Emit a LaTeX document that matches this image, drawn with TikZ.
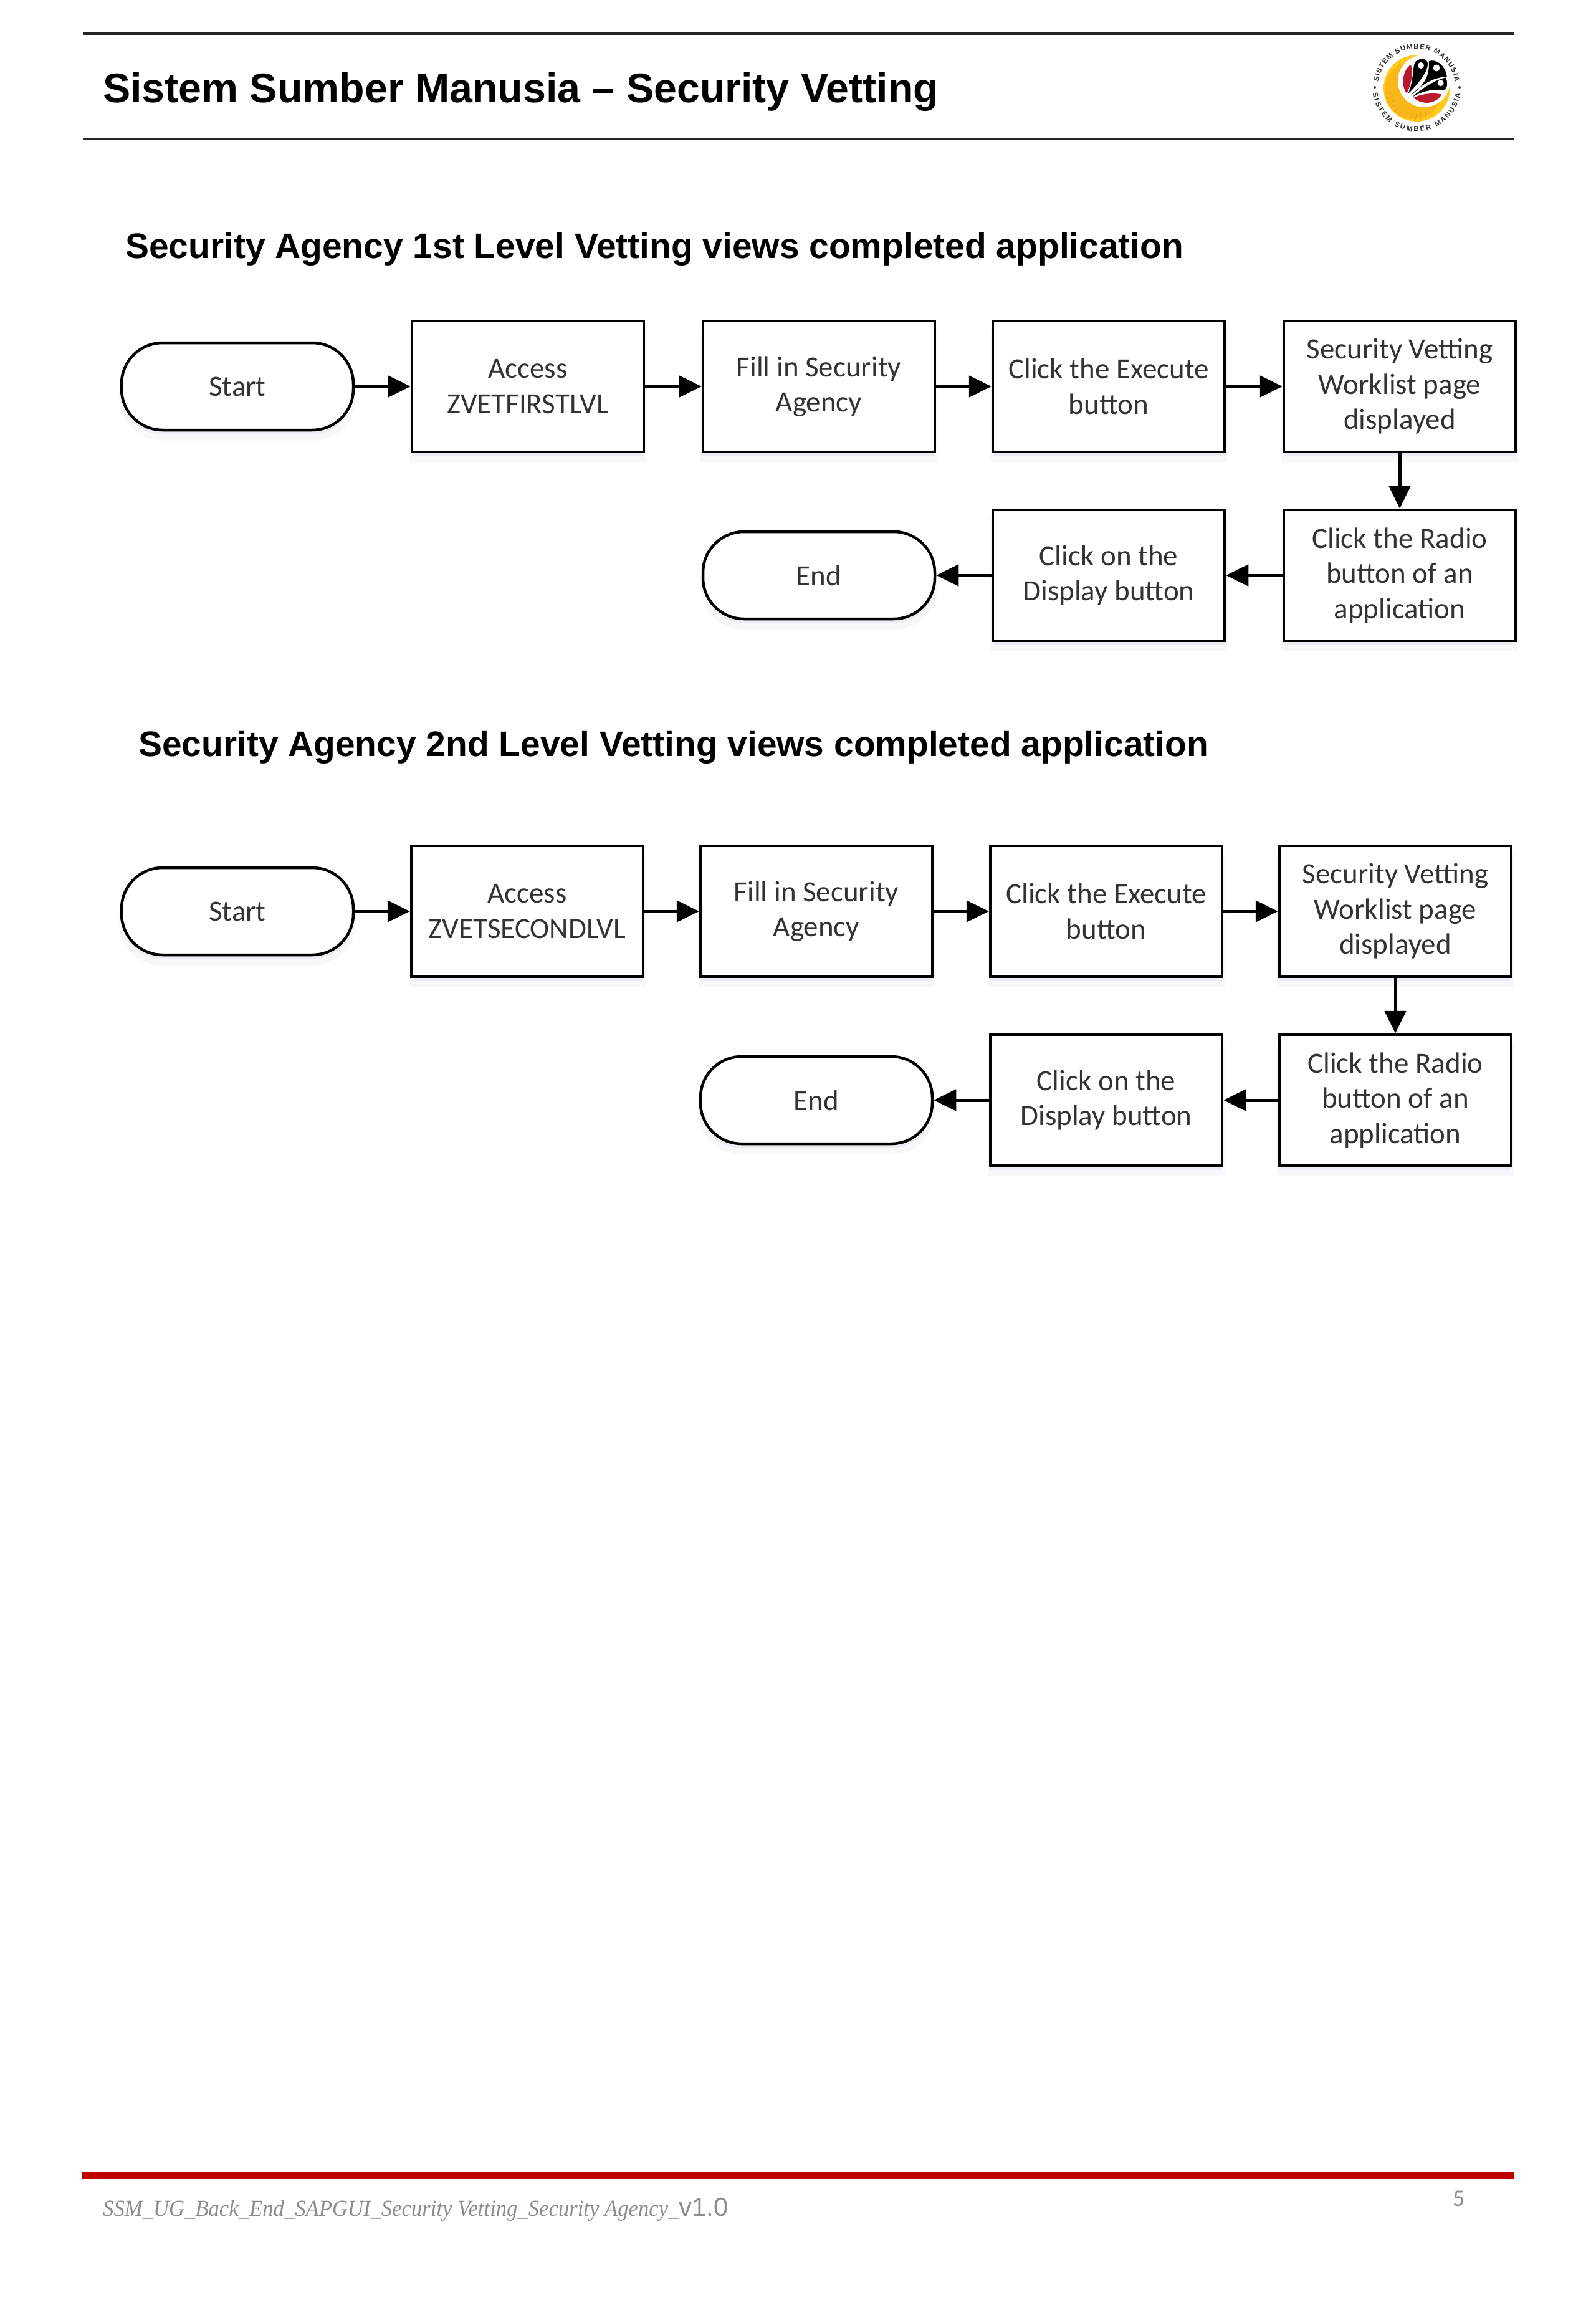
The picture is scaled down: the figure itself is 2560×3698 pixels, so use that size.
\documentclass[tikz,border=0pt]{standalone}
\usepackage{fontspec}
\setmainfont{Liberation Sans}
\newfontfamily\boxfont{Carlito}
\newfontfamily\footfont{Liberation Serif}
\usetikzlibrary{arrows.meta,shadows,decorations.text}
\definecolor{logoY}{HTML}{FFC91E}
\definecolor{logoO}{HTML}{F2A516}
\definecolor{logoR}{HTML}{B9182E}
\definecolor{barR}{HTML}{C00000}
\tikzset{
  x=1pt,y=1pt,
  softshadow/.style={
    drop shadow={shadow xshift=0pt,shadow yshift=-7pt,fill=blue!30!gray,opacity=.07},
    drop shadow={shadow xshift=0pt,shadow yshift=-15pt,shadow scale=1.02,fill=blue!30!gray,opacity=.04}},
  stepbox/.style={draw=black,line width=4.5pt,fill=white,minimum width=372pt,minimum height=210pt,align=center,
    inner sep=0pt,text=black!80,font=\boxfont\fontsize{47}{56.5}\selectfont,softshadow},
  termbox/.style={stepbox,minimum height=140pt,rounded corners=66pt},
  flow/.style={line width=5pt,draw=black,-{Triangle[length=36pt,width=34pt]}},
  rule/.style={draw=black!85,line width=3.5pt},
  pagetitle/.style={anchor=base west,inner sep=0pt,font=\bfseries\fontsize{66.3}{80}\selectfont},
  sectitle/.style={anchor=base west,inner sep=0pt,font=\bfseries\fontsize{56.9}{70}\selectfont},
  foot/.style={anchor=base west,inner sep=0pt,text=black!45},
  ringtext/.style={decorate,decoration={text along path,text align={fit to path},raise=0pt,
    text={|\bfseries\fontsize{11.5}{12}\selectfont\color{black!80}|#1}}}
}
\begin{document}
\begin{tikzpicture}
\useasboundingbox[fill=white] (0,0) rectangle (2560,-3698);
% header
\coordinate (h1a) at (133,-54); \coordinate (h1b) at (2429,-54);
\coordinate (h2a) at (133,-223); \coordinate (h2b) at (2429,-223);
\draw[rule] (h1a) -- (h1b);
\draw[rule,line width=4pt] (h2a) -- (h2b);
\node[pagetitle] (title) at (165,-165) {Sistem Sumber Manusia – Security Vetting};
% logo
\begin{scope}[shift={(2100,-30)},x=0.33333pt,y=-0.33333pt]
  \fill[logoY] (520,335) circle[radius=53.3pt];
  \fill[logoO,opacity=.45] (505,345) circle[radius=46pt];
  \fill[white] (555,300) circle[radius=42pt];
  \fill[black] (478,362) .. controls (505,300) and (500,240) .. (510,212)
     .. controls (525,190) and (565,185) .. (572,212) .. controls (580,250) and (520,320) .. cycle;
  \fill[black] (490,370) .. controls (540,330) and (585,290) .. (578,205)
     .. controls (610,190) and (660,225) .. (665,280) .. controls (600,280) and (540,320) .. cycle;
  \fill[black] (495,380) .. controls (550,330) and (610,295) .. (660,283)
     .. controls (672,310) and (665,340) .. (650,345) .. controls (590,335) and (530,355) .. cycle;
  \fill[white] (540,225) circle[radius=5pt] (615,237) circle[radius=5.5pt] (635,310) circle[radius=5pt];
  \fill[logoR] (472,360) .. controls (440,320) and (455,240) .. (492,222)
     .. controls (505,270) and (490,320) .. cycle;
  \fill[logoR] (505,380) .. controls (550,360) and (600,355) .. (640,365)
     .. controls (610,415) and (540,415) .. cycle;
\end{scope}
\foreach \a in {190,200,...,290}{
  \draw[logoO,line width=1.2pt] (2273,-141) ++(\a:41) -- ++(\a-12:12);
}
\path[ringtext={SISTEM SUMBER MANUSIA}] (2273,-140) ++(172:62) arc[start angle=172,end angle=8,radius=62];
\path[ringtext={SISTEM SUMBER MANUSIA}] (2273,-140) ++(188:71) arc[start angle=188,end angle=352,radius=71];
\fill[black!75] (2206,-140) circle[radius=2pt] (2342,-140) circle[radius=2pt];
% section 1
\node[sectitle] (sec1) at (201,-414) {Security Agency 1st Level Vetting views completed application};
\node[termbox] (s1) at (381,-620) {Start};
\node[stepbox] (a1) at (847,-620) {Access\\ZVETFIRSTLVL};
\node[stepbox] (b1) at (1314,-620) {Fill in Security\\Agency};
\node[stepbox] (c1) at (1779,-620) {Click the Execute\\button};
\node[stepbox] (d1) at (2246,-620) {Security Vetting\\Worklist page\\displayed};
\node[stepbox] (e1) at (2246,-923) {Click the Radio\\button of an\\application};
\node[stepbox] (f1) at (1779,-923) {Click on the\\Display button};
\node[termbox] (g1) at (1314,-923) {End};
\draw[flow] (s1) -- (a1);
\draw[flow] (a1) -- (b1);
\draw[flow] (b1) -- (c1);
\draw[flow] (c1) -- (d1);
\draw[flow] (d1) -- (e1);
\draw[flow] (e1) -- (f1);
\draw[flow] (f1) -- (g1);
% section 2
\node[sectitle] (sec2) at (222,-1213) {Security Agency 2nd Level Vetting views completed application};
\node[termbox] (s2) at (381,-1462) {Start};
\node[stepbox] (a2) at (846,-1462) {Access\\ZVETSECONDLVL};
\node[stepbox] (b2) at (1310,-1462) {Fill in Security\\Agency};
\node[stepbox] (c2) at (1775,-1462) {Click the Execute\\button};
\node[stepbox] (d2) at (2239,-1462) {Security Vetting\\Worklist page\\displayed};
\node[stepbox] (e2) at (2239,-1765) {Click the Radio\\button of an\\application};
\node[stepbox] (f2) at (1775,-1765) {Click on the\\Display button};
\node[termbox] (g2) at (1310,-1765) {End};
\draw[flow] (s2) -- (a2);
\draw[flow] (a2) -- (b2);
\draw[flow] (b2) -- (c2);
\draw[flow] (c2) -- (d2);
\draw[flow] (d2) -- (e2);
\draw[flow] (e2) -- (f2);
\draw[flow] (f2) -- (g2);
% footer
\coordinate (fa) at (132,-3490); \coordinate (fb) at (2429,-3490);
\draw[barR,line width=11pt] (fa) -- (fb);
\node[foot] (ft) at (165,-3555) {\footfont\itshape\fontsize{37}{40}\selectfont\scalebox{0.937}[1]{SSM\_UG\_Back\_End\_SAPGUI\_Security Vetting\_Security Agency\_}\normalfont\rmfamily\fontsize{42}{40}\selectfont v1.0};
\node[foot,font=\boxfont\fontsize{38}{40}\selectfont] (pg) at (2331,-3539) {5};
\end{tikzpicture}
\end{document}
